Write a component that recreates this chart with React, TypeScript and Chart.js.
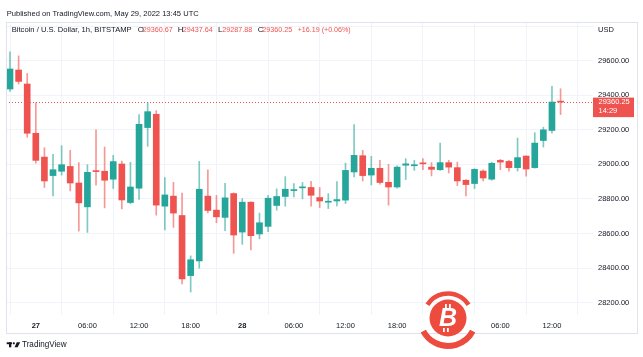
import React, { useEffect, useRef } from 'react';
import { Chart, registerables } from 'chart.js';

Chart.register(...registerables);

// Hourly candles, BTC/USD (BITSTAMP), from 26 May 21:00 to 29 May 13:00 UTC
const openP = [
  29436, 29546, 29465, 29180, 29042, 28935, 28960, 28988, 28892, 28754,
  28962, 28960, 28914, 29002, 28779, 28862, 29213, 29290, 28758, 28816,
  28704, 28356, 28441, 28816, 28735, 28693, 28831, 28608, 28781, 28597,
  28641, 28762, 28814, 28848, 28864, 28866, 28808, 28781, 28788, 28793,
  28956, 29050, 28938, 28977, 28896, 28869, 28995, 28992, 29008, 28984,
  28969, 29010, 28981, 28908, 28889, 28961, 28914, 29023, 29017, 28981,
  29048, 28981, 29138, 29196, 29360.67,
];
const highP = [
  29651, 29628, 29526, 29356, 29096, 29058, 29108, 29081, 29010, 28998,
  29200, 29100, 29052, 29019, 29012, 29288, 29356, 29311, 28923, 28896,
  28833, 28470, 29017, 28969, 28820, 28890, 28835, 28802, 28783, 28718,
  28821, 28858, 28929, 28889, 28895, 28902, 28866, 28831, 28900, 29007,
  29230, 29081, 29046, 29023, 29000, 28992, 29033, 29023, 29033, 29010,
  29123, 29023, 29013, 28912, 28975, 28969, 29013, 29029, 29023, 29152,
  29050, 29183, 29215, 29451, 29437.64,
];
const lowP = [
  29422, 29465, 29157, 29007, 28866, 28817, 28938, 28846, 28614, 28606,
  28879, 28748, 28860, 28742, 28773, 28797, 29104, 28706, 28620, 28635,
  28308, 28261, 28399, 28719, 28662, 28616, 28485, 28537, 28504, 28569,
  28610, 28735, 28758, 28812, 28800, 28758, 28750, 28744, 28760, 28773,
  28927, 28904, 28881, 28885, 28764, 28862, 28912, 28965, 28969, 28933,
  28965, 28950, 28877, 28817, 28860, 28904, 28908, 28969, 28961, 28961,
  28931, 28978, 29100, 29180, 29287.88,
];
const closeP = [
  29552, 29480, 29180, 29023, 28904, 28969, 28998, 28892, 28777, 28954,
  28958, 28908, 29016, 28794, 28869, 29232, 29305, 28764, 28823, 28718,
  28337, 28448, 28856, 28733, 28696, 28806, 28591, 28781, 28587, 28662,
  28804, 28814, 28856, 28852, 28868, 28821, 28788, 28786, 28796, 28965,
  29052, 28935, 28977, 28895, 28869, 28984, 29003, 28998, 29003, 28971,
  29010, 28984, 28904, 28883, 28971, 28921, 29006, 29013, 28981, 29039,
  28973, 29123, 29200, 29360.67, 29360.25,
];

const timeTickIdx = [3, 9, 15, 21, 27, 33, 39, 45, 51, 57, 63];
const timeTickLabels = ['27', '06:00', '12:00', '18:00', '28', '06:00', '12:00', '18:00', '29', '06:00', '12:00'];
const dayLabels = ['27', '28', '29'];
const priceTicks = [28200, 28400, 28600, 28800, 29000, 29200, 29400, 29600, 29800];
const lastPrice = 29360.25;
const lastPriceText = '29360.25';
const countdownText = '14:29';

const publishedText = 'Published on TradingView.com, May 29, 2022 13:45 UTC';
const symbolText = 'Bitcoin / U.S. Dollar, 1h, BITSTAMP';
const ohlcLetters = ['O', 'H', 'L', 'C'];
const ohlcValues = ['29360.67', '29437.64', '29287.88', '29360.25'];
const changeText = '+16.19 (+0.06%)';
const currencyText = 'USD';
const brandText = 'TradingView';

const UP = '#26a69a';
const DOWN = '#ef5350';
const UP_WICK = 'rgba(38,166,154,0.6)';
const DOWN_WICK = 'rgba(239,83,80,0.6)';
const TEXT = '#131722';
const FONT = '"Liberation Sans", Arial, sans-serif';

function fitText(ctx: CanvasRenderingContext2D, text: string, x: number, y: number, w: number) {
  const m = ctx.measureText(text).width;
  ctx.save();
  ctx.translate(x, y);
  ctx.scale(w / m, 1);
  ctx.fillText(text, 0, 0);
  ctx.restore();
}

const overlayPlugin = {
  id: 'tvOverlay',
  beforeDatasetsDraw(chart: any) {
    const ctx: CanvasRenderingContext2D = chart.ctx;
    const area = chart.chartArea;
    const y = Math.round(chart.scales.y.getPixelForValue(lastPrice)) + 0.5;
    ctx.save();
    ctx.strokeStyle = DOWN;
    ctx.lineWidth = 1;
    ctx.setLineDash([1, 2]);
    ctx.beginPath();
    ctx.moveTo(area.left, y);
    ctx.lineTo(area.right, y);
    ctx.stroke();
    ctx.restore();
  },
  afterDraw(chart: any) {
    const ctx: CanvasRenderingContext2D = chart.ctx;
    const area = chart.chartArea;
    ctx.save();
    // frame
    ctx.strokeStyle = '#e0e3eb';
    ctx.lineWidth = 1;
    ctx.strokeRect(6.5, 22.5, 631, 311);

    // published line
    ctx.fillStyle = TEXT;
    ctx.textBaseline = 'middle';
    ctx.font = `8px ${FONT}`;
    fitText(ctx, publishedText, 6.7, 13.3, 192);

    // symbol header
    fitText(ctx, symbolText, 11.7, 30, 120);
    const letterX = [137.7, 177.7, 218.0, 257.7];
    const valX = [142.7, 182.7, 222.3, 262.3];
    for (let i = 0; i < 4; i++) {
      ctx.fillStyle = TEXT;
      ctx.fillText(ohlcLetters[i], letterX[i], 30);
      ctx.fillStyle = DOWN;
      fitText(ctx, ohlcValues[i], valX[i], 30, 30);
    }
    fitText(ctx, changeText, 297.7, 30, 53);

    // currency
    ctx.fillStyle = TEXT;
    ctx.font = `7.5px ${FONT}`;
    ctx.fillText(currencyText, 598, 29.5);

    // price tag
    const py = chart.scales.y.getPixelForValue(lastPrice);
    ctx.fillStyle = DOWN;
    ctx.fillRect(area.right, py - 4.5, 41, 19.5);
    ctx.fillStyle = '#ffffff';
    ctx.font = `7.5px ${FONT}`;
    ctx.fillText(lastPriceText, 598.5, py);
    ctx.fillText(countdownText, 598.5, py + 9);

    // watermark
    const cx = 448, cy = 318;
    ctx.fillStyle = '#ee4b3f';
    ctx.strokeStyle = '#ee4b3f';
    ctx.beginPath();
    ctx.arc(cx, cy, 18.5, 0, Math.PI * 2);
    ctx.fill();
    ctx.lineWidth = 4.5;
    ctx.beginPath();
    ctx.arc(cx, cy, 24.5, (213 * Math.PI) / 180, (327 * Math.PI) / 180);
    ctx.stroke();
    ctx.lineWidth = 6;
    ctx.beginPath();
    ctx.arc(cx, cy, 28, (28 * Math.PI) / 180, (152 * Math.PI) / 180);
    ctx.stroke();
    ctx.fillStyle = '#ffffff';
    ctx.font = `italic bold 25px ${FONT}`;
    ctx.textAlign = 'center';
    ctx.textBaseline = 'middle';
    ctx.fillText('B', cx, cy + 1);
    ctx.fillRect(cx - 3, cy - 14, 1.8, 4);
    ctx.fillRect(cx + 1, cy - 14, 1.8, 4);
    ctx.fillRect(cx - 5, cy + 10, 1.8, 4);
    ctx.fillRect(cx - 1, cy + 10, 1.8, 4);

    // brand
    ctx.textAlign = 'left';
    ctx.fillStyle = TEXT;
    ctx.fillRect(6.7, 342.3, 5.2, 1.9);
    ctx.fillRect(9.0, 342.3, 2.3, 5);
    ctx.beginPath();
    ctx.arc(13.8, 343.3, 1.1, 0, Math.PI * 2);
    ctx.fill();
    ctx.beginPath();
    ctx.moveTo(16.8, 342.3);
    ctx.lineTo(20.2, 342.3);
    ctx.lineTo(17.6, 347.3);
    ctx.lineTo(14.6, 347.3);
    ctx.closePath();
    ctx.fill();
    ctx.font = `8.5px ${FONT}`;
    ctx.textBaseline = 'middle';
    fitText(ctx, brandText, 22, 345, 44.7);
    ctx.restore();
  },
};

export default function App() {
  const ref = useRef<HTMLCanvasElement | null>(null);

  useEffect(() => {
    if (!ref.current) return;
    const isUp = (i: number) => closeP[i] >= openP[i];
    const bodies = openP.map((o, i) => ({ x: i, y: [Math.min(o, closeP[i]), Math.max(o, closeP[i])] }));
    const wicks = openP.map((_, i) => ({ x: i, y: [lowP[i], highP[i]] }));
    const chart = new Chart(ref.current, {
      type: 'bar',
      data: {
        datasets: [
          {
            data: bodies as any,
            backgroundColor: openP.map((_, i) => (isUp(i) ? UP : DOWN)),
            borderWidth: 0,
            barThickness: 6,
            minBarLength: 1,
            grouped: false,
          } as any,
          {
            data: wicks as any,
            backgroundColor: openP.map((_, i) => (isUp(i) ? UP_WICK : DOWN_WICK)),
            borderWidth: 0,
            barThickness: 1,
            grouped: false,
          } as any,
        ],
      },
      options: {
        animation: false,
        responsive: false,
        devicePixelRatio: 1,
        layout: { padding: { left: 6, right: 5, top: 22, bottom: 24 } },
        plugins: { legend: { display: false }, tooltip: { enabled: false } },
        scales: {
          x: {
            type: 'linear',
            min: -0.465,
            max: 67.77,
            offset: false,
            grid: { color: '#f0f3fa', drawTicks: false },
            border: { display: false },
            afterBuildTicks: (s: any) => {
              s.ticks = timeTickIdx.map((v) => ({ value: v }));
            },
            afterFit: (s: any) => {
              s.height = 18;
            },
            ticks: {
              padding: 6,
              color: TEXT,
              maxRotation: 0,
              autoSkip: false,
              font: (c: any) => {
                const idx = timeTickIdx.indexOf(c.tick ? c.tick.value : -1);
                const lbl = idx >= 0 ? timeTickLabels[idx] : '';
                return { family: FONT, size: 7.5, weight: dayLabels.includes(lbl) ? 'bold' : 'normal' };
              },
              callback: (v: any) => {
                const idx = timeTickIdx.indexOf(Number(v));
                return idx >= 0 ? timeTickLabels[idx] : '';
              },
            },
          } as any,
          y: {
            position: 'right',
            min: 28128,
            max: 29824,
            grid: { color: '#f0f3fa', drawTicks: false },
            border: { display: false },
            afterBuildTicks: (s: any) => {
              s.ticks = priceTicks.map((v) => ({ value: v }));
            },
            afterFit: (s: any) => {
              s.width = 45;
            },
            ticks: {
              padding: 5,
              color: TEXT,
              font: { family: FONT, size: 7.5 },
              callback: (v: any) => (Number(v) === 29800 ? '' : Number(v).toFixed(2)),
            },
          } as any,
        },
      },
      plugins: [overlayPlugin],
    });
    return () => chart.destroy();
  }, []);

  return (
    <div style={{ position: 'fixed', left: 0, top: 0, width: 643, height: 357, background: '#ffffff' }}>
      <canvas ref={ref} width={643} height={357} style={{ width: 643, height: 357, display: 'block' }} />
    </div>
  );
}
